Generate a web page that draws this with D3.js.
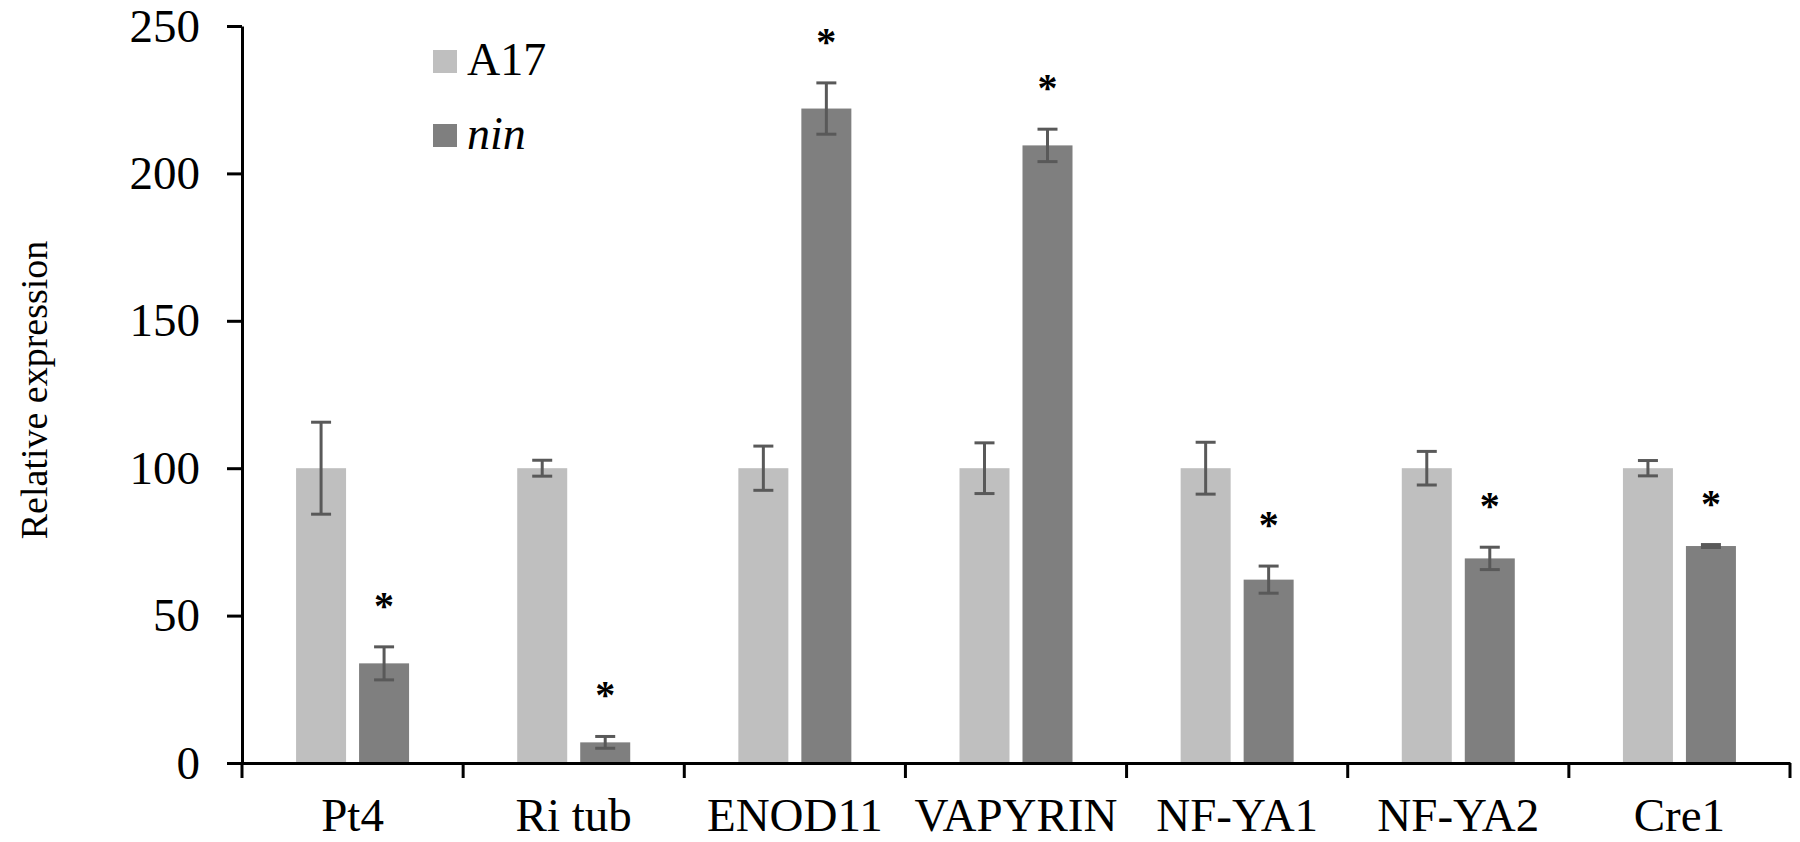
<!DOCTYPE html>
<html>
<head>
<meta charset="utf-8">
<script src="https://cdn.jsdelivr.net/npm/d3@7"></script>
<style>
  body { margin: 0; background: #fff; }
  svg { display: block; }
</style>
</head>
<body>
<div id="chart"></div>
<script>
// data
var genes = ["Pt4", "Ri tub", "ENOD11", "VAPYRIN", "NF-YA1", "NF-YA2", "Cre1"];
var seriesNames = ["A17", "nin"];
var a17Values = [100, 100, 100, 100, 100, 100, 100];
var a17Errors = [15.6, 2.7, 7.5, 8.6, 8.8, 5.7, 2.6];
var ninValues = [33.8, 7, 222, 209.5, 62.2, 69.4, 73.6];
var ninErrors = [5.6, 2, 8.7, 5.5, 4.6, 3.8, 0.5];
var ninSignificant = [true, true, true, true, true, true, true];
var yTicks = [0, 50, 100, 150, 200, 250];

var width = 1800;
var height = 842;
var colors = { A17: "#bfbfbf", nin: "#7f7f7f" };
var font = "Liberation Serif, Tinos, Times New Roman, DejaVu Serif, serif";

var svg = d3.select("#chart")
    .append("svg")
    .attr("width", width)
    .attr("height", height);

var x0 = d3.scaleBand()
    .domain(genes)
    .range([242, 1790])
    .padding(0);

var x1 = d3.scaleBand()
    .domain(seriesNames)
    .range([0, 113])
    .paddingInner(13 / 63);

var y = d3.scaleLinear()
    .domain([0, 250])
    .range([763, 26]);

// rows for drawing
var rows = [];
genes.forEach(function (g, i) {
    rows.push({ gene: g, series: "A17", value: a17Values[i], err: a17Errors[i], star: false });
    rows.push({ gene: g, series: "nin", value: ninValues[i], err: ninErrors[i], star: ninSignificant[i] });
});

function barX(d) {
    return x0(d.gene) + (x0.bandwidth() - 113) / 2 + x1(d.series);
}

// bars
svg.append("g")
    .selectAll("rect")
    .data(rows)
    .enter()
    .append("rect")
    .attr("x", barX)
    .attr("y", function (d) { return y(d.value); })
    .attr("width", x1.bandwidth())
    .attr("height", function (d) { return y(0) - y(d.value); })
    .attr("fill", function (d) { return colors[d.series]; });

// error bars
var errG = svg.append("g")
    .attr("stroke", "#595959")
    .attr("stroke-width", 3);

rows.forEach(function (d) {
    var cx = barX(d) + x1.bandwidth() / 2;
    errG.append("line")
        .attr("x1", cx).attr("x2", cx)
        .attr("y1", y(d.value + d.err)).attr("y2", y(d.value - d.err));
    errG.append("line")
        .attr("x1", cx - 10).attr("x2", cx + 10)
        .attr("y1", y(d.value + d.err)).attr("y2", y(d.value + d.err));
    errG.append("line")
        .attr("x1", cx - 10).attr("x2", cx + 10)
        .attr("y1", y(d.value - d.err)).attr("y2", y(d.value - d.err));
});

// asterisks
svg.append("g")
    .selectAll("text")
    .data(rows.filter(function (d) { return d.star; }))
    .enter()
    .append("text")
    .attr("x", function (d) { return barX(d) + x1.bandwidth() / 2; })
    .attr("y", function (d) { return y(d.value + d.err) - 28; })
    .attr("text-anchor", "middle")
    .style("font-family", font)
    .style("font-weight", "bold")
    .style("font-size", "40px")
    .style("fill", "#000")
    .text("*");

// y axis
var yAxis = svg.append("g")
    .attr("transform", "translate(242,0)")
    .call(d3.axisLeft(y).tickValues(yTicks).tickSize(15).tickSizeOuter(0).tickPadding(27));

yAxis.select(".domain").attr("stroke", "#000").attr("stroke-width", 3);
yAxis.selectAll(".tick line").attr("stroke", "#000").attr("stroke-width", 3);
yAxis.selectAll(".tick text")
    .style("font-family", font)
    .style("font-size", "47px")
    .style("fill", "#000");

// x axis
var xAxis = svg.append("g")
    .attr("transform", "translate(0,763)")
    .call(d3.axisBottom(x0).tickSize(0).tickPadding(35));

xAxis.select(".domain").attr("stroke", "#000").attr("stroke-width", 3);
xAxis.selectAll(".tick text")
    .style("font-family", font)
    .style("font-size", "47px")
    .style("fill", "#000");

// category boundary ticks
var bounds = genes.map(function (g) { return x0(g); }).concat([x0.range()[1]]);
xAxis.selectAll(".bound")
    .data(bounds)
    .enter()
    .append("line")
    .attr("class", "bound")
    .attr("x1", function (d) { return d; })
    .attr("x2", function (d) { return d; })
    .attr("y1", 0)
    .attr("y2", 15)
    .attr("stroke", "#000")
    .attr("stroke-width", 3);

// y label
svg.append("text")
    .attr("transform", "translate(34,390) rotate(-90)")
    .attr("text-anchor", "middle")
    .attr("dy", "0.35em")
    .style("font-family", font)
    .style("font-size", "38px")
    .style("fill", "#000")
    .text("Relative expression");

// legend
var legend = svg.append("g").attr("transform", "translate(433,50)");
seriesNames.forEach(function (s, i) {
    legend.append("rect")
        .attr("x", 0)
        .attr("y", i * 74)
        .attr("width", 24)
        .attr("height", 23)
        .attr("fill", colors[s]);
    legend.append("text")
        .attr("x", 34)
        .attr("y", i * 74 + 25)
        .style("font-family", font)
        .style("font-size", "46px")
        .style("font-style", s == "nin" ? "italic" : "normal")
        .style("fill", "#000")
        .text(s);
});
</script>
</body>
</html>
